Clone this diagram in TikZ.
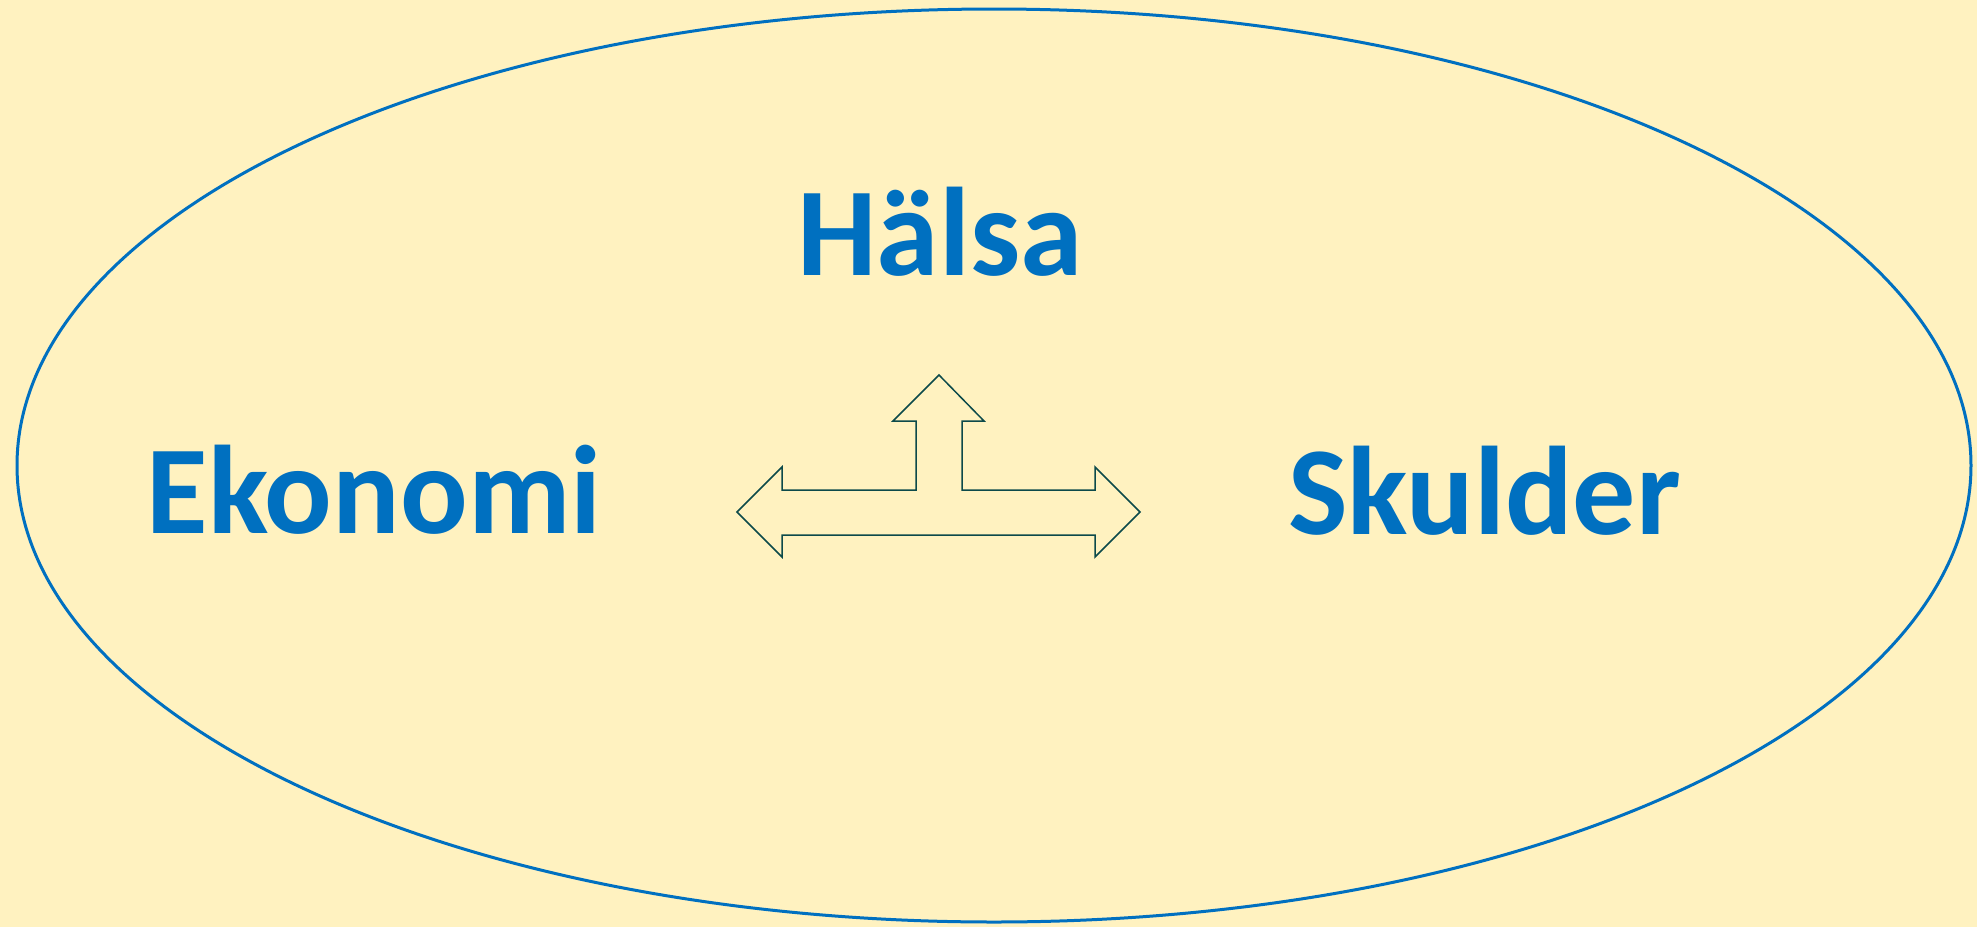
\documentclass[tikz,border=0pt]{standalone}
\usepackage{fontspec}
\setmainfont{Carlito}
\usetikzlibrary{shapes.geometric}
\definecolor{bg}{HTML}{FFF2C0}
\definecolor{blu}{HTML}{0070C0}
\definecolor{arr}{HTML}{0C4A4A}
\begin{document}
\begin{tikzpicture}[x=0.5pt,y=-0.5pt,
  lbl/.style={anchor=base,inner sep=0pt,text=blu,font=\fontsize{63}{75}\selectfont\bfseries},
  arrowshape/.style={draw=arr,line width=0.75pt,line join=miter}]
\fill[bg] (0,0) rectangle (1977,927);
\useasboundingbox (0,0) rectangle (1977,927);
\node (ring) [draw=blu,line width=1.5pt,ellipse,minimum width=977pt,minimum height=456.5pt,inner sep=0pt] at (994,465.5) {};
\node (halsa) [lbl,anchor=base west] at (797,275) {Hälsa};
\node (ekonomi) [lbl] at (374,533) {Ekonomi};
\node (skulder) [lbl] at (1484.5,534) {Skulder};
\draw[arrowshape] (939,375) -- (984,421) -- (962,421) -- (962,490) -- (1095,490) -- (1095,467) -- (1140,512) -- (1095,557) -- (1095,535) -- (782,535) -- (782,557) -- (737,512) -- (782,467) -- (782,490) -- (916,490) -- (916,421) -- (893,421) -- cycle;
\end{tikzpicture}
\end{document}
